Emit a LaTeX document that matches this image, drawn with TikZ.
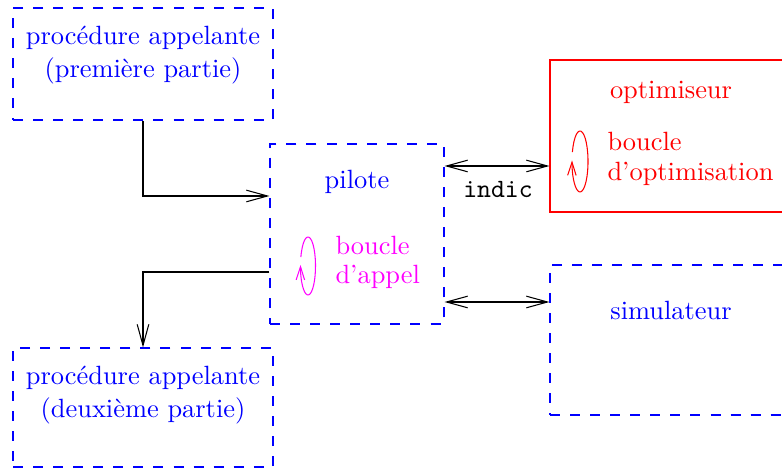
\documentclass[tikz,border=0pt]{standalone}
\usetikzlibrary{arrows.meta,fit}
\definecolor{pmag}{RGB}{255,0,255}
\definecolor{pblue}{RGB}{0,0,255}
\definecolor{pred}{RGB}{255,0,0}
\begin{document}
\begin{tikzpicture}[x=0.3788pt,y=0.3788pt,
  dbox/.style={draw=pblue, dash pattern=on 3.8pt off 3.8pt, inner sep=0pt},
  sbox/.style={draw=pred, inner sep=0pt},
  flow/.style={-{Straight Barb[length=8pt,width=4.4pt]}},
  both/.style={{Straight Barb[length=8pt,width=4.4pt]}-{Straight Barb[length=8pt,width=4.4pt]}},
  loopar/.style={-{Straight Barb[length=5pt,width=3.2pt]}},
  txt/.style={inner sep=0pt, align=center, font=\fontsize{10}{12.5}\selectfont}]
\useasboundingbox (0,0) rectangle (782,469);
\clip (0,0) rectangle (782,469);
% boxes
\node[dbox, fit={(13,349) (273,461)}] (p1) {};
\node[dbox, fit={(270,145) (444,325)}] (pil) {};
\node[dbox, fit={(13,2) (273,121)}] (p2) {};
\node[sbox, fit={(550,257) (792,409)}] (opt) {};
\node[dbox, fit={(550,54) (792,204)}] (sim) {};
% texts
\node[txt, text=pblue] (t1) at (143,414) {procédure appelante\\(première partie)};
\node[txt, text=pblue] (t2) at (143,74) {procédure appelante\\(deuxième partie)};
\node[txt, text=pblue] (t3) at (357,287) {pilote};
\node[txt, text=pmag, align=left, anchor=west] (t4) at (335,207) {boucle\\[-1.5pt]d’appel};
\node[txt, text=pred] (t5) at (671,377) {optimiseur};
\node[txt, text=pred, align=left, anchor=west] (t6) at (607,310) {boucle\\[-1pt]d’optimisation};
\node[txt, text=pblue] (t7) at (671,159) {simulateur};
\node[txt] (t8) at (498,279) {\ttfamily indic};
% loops
\draw[pmag, loopar] (308,203) ++(162:7.5 and 29)
  arc[start angle=162, end angle=-182, x radius=7.5, y radius=29];
\draw[pred, loopar] (580,307.5) ++(162:8 and 30.5)
  arc[start angle=162, end angle=-182, x radius=8, y radius=30.5];
% connectors
\draw[both] (pil.east |- 0,303) -- (opt.west |- 0,303);
\draw[both] (pil.east |- 0,167) -- (sim.west |- 0,167);
\draw[flow] (p1.south) |- (pil.west |- 0,273);
\draw[flow] (pil.west |- 0,197) -| (p2.north);
\end{tikzpicture}
\end{document}
